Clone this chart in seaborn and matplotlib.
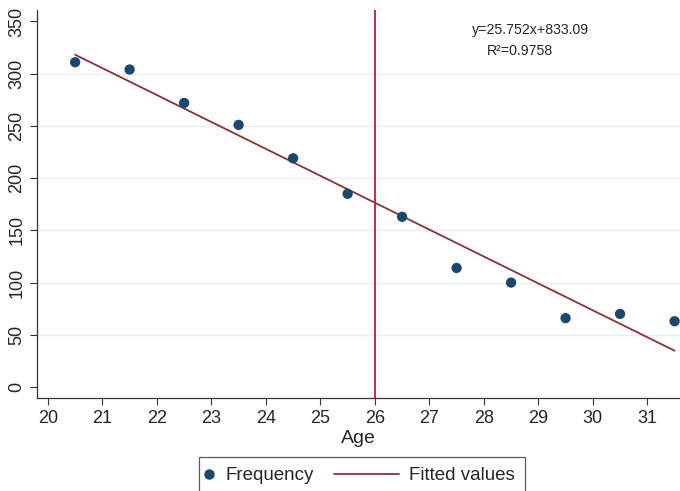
import numpy as np
import pandas as pd
import matplotlib
matplotlib.use('Agg')
import matplotlib.pyplot as plt
from matplotlib.lines import Line2D
from matplotlib.legend_handler import HandlerLine2D
import seaborn as sns

# 数据
age = [20.5, 21.5, 22.5, 23.5, 24.5, 25.5, 26.5, 27.5, 28.5, 29.5, 30.5, 31.5]
frequency = [311, 304, 272, 251, 219, 185, 163, 114, 100, 66, 70, 63]
x_ticks = list(range(20, 32))
y_ticks = list(range(0, 351, 50))
cut_age = 26
eq_text = 'y=25.752x+833.09'
r2_text = 'R²=0.9758'

navy = '#1a476f'
maroon = '#8e3036'
vline_color = '#c8143c'


class LongLineHandler(HandlerLine2D):
    """图例里的线条画得比标记那一列更长"""
    def create_artists(self, legend, orig_handle, xdescent, ydescent,
                       width, height, fontsize, trans):
        y = (height - ydescent) / 2
        line = Line2D([width - 42.5, width + 4.5], [y, y])
        self.update_prop(line, orig_handle, legend)
        line.set_transform(trans)
        return [line]


df = pd.DataFrame({'Age': age, 'Frequency': frequency})

sns.set_style('white')
plt.rcParams['font.family'] = ['Liberation Sans', 'DejaVu Sans']

fig = plt.figure(figsize=(6.8, 4.91), dpi=100)
ax = fig.add_axes([37 / 680, 93 / 491, 1 - 37 / 680, 388 / 491])

sns.scatterplot(data=df, x='Age', y='Frequency', ax=ax, color=navy,
                s=55, edgecolor='none', zorder=3, legend=False)
sns.regplot(data=df, x='Age', y='Frequency', ax=ax, scatter=False, ci=None,
            color=maroon, line_kws={'linewidth': 1.3})
ax.axvline(cut_age, color=vline_color, linewidth=1.3, zorder=2)

ax.set_xlim(19.8, 31.6)
ax.set_ylim(-10.5, 361)
ax.set_xticks(x_ticks)
ax.set_yticks(y_ticks)
ax.tick_params(axis='both', direction='out', length=5, width=0.8, color='#333333',
               labelsize=13, left=True, bottom=True)
for lab in ax.get_yticklabels():
    lab.set_rotation(90)
    lab.set_va('center')

ax.grid(axis='y', color='#e6eef1', linewidth=1)
gl = ax.get_ygridlines()
gl[0].set_visible(False)
gl[-1].set_visible(False)

for side in ['top', 'right']:
    ax.spines[side].set_visible(False)
for side in ['left', 'bottom']:
    ax.spines[side].set_color('#333333')
    ax.spines[side].set_linewidth(0.9)

ax.set_xlabel('Age', fontsize=14, labelpad=2)
ax.set_ylabel('')

ax.text(472 / 680, 1 - 30 / 491, eq_text, transform=fig.transFigure,
        fontsize=10.2, va='center', ha='left')
ax.text(487 / 680, 1 - 51 / 491, r2_text, transform=fig.transFigure,
        fontsize=10.2, va='center', ha='left')

h_freq = Line2D([], [], marker='o', linestyle='none', color=navy,
                markersize=7.5, markeredgewidth=0)
h_fit = Line2D([], [], color=maroon, linewidth=1.3)
leg = ax.legend([h_freq, h_fit], ['Frequency', 'Fitted values'],
                handler_map={h_fit: LongLineHandler()},
                loc='upper center', ncol=2,
                bbox_to_anchor=(362 / 680, 1 - 457 / 491), bbox_transform=fig.transFigure,
                fontsize=13.5, frameon=True, fancybox=False, edgecolor='#333333',
                handlelength=0, handletextpad=0.84, columnspacing=4.25,
                borderpad=0.55, borderaxespad=0, numpoints=1)
leg.get_frame().set_linewidth(0.9)

fig.savefig('out.png', dpi=100)
